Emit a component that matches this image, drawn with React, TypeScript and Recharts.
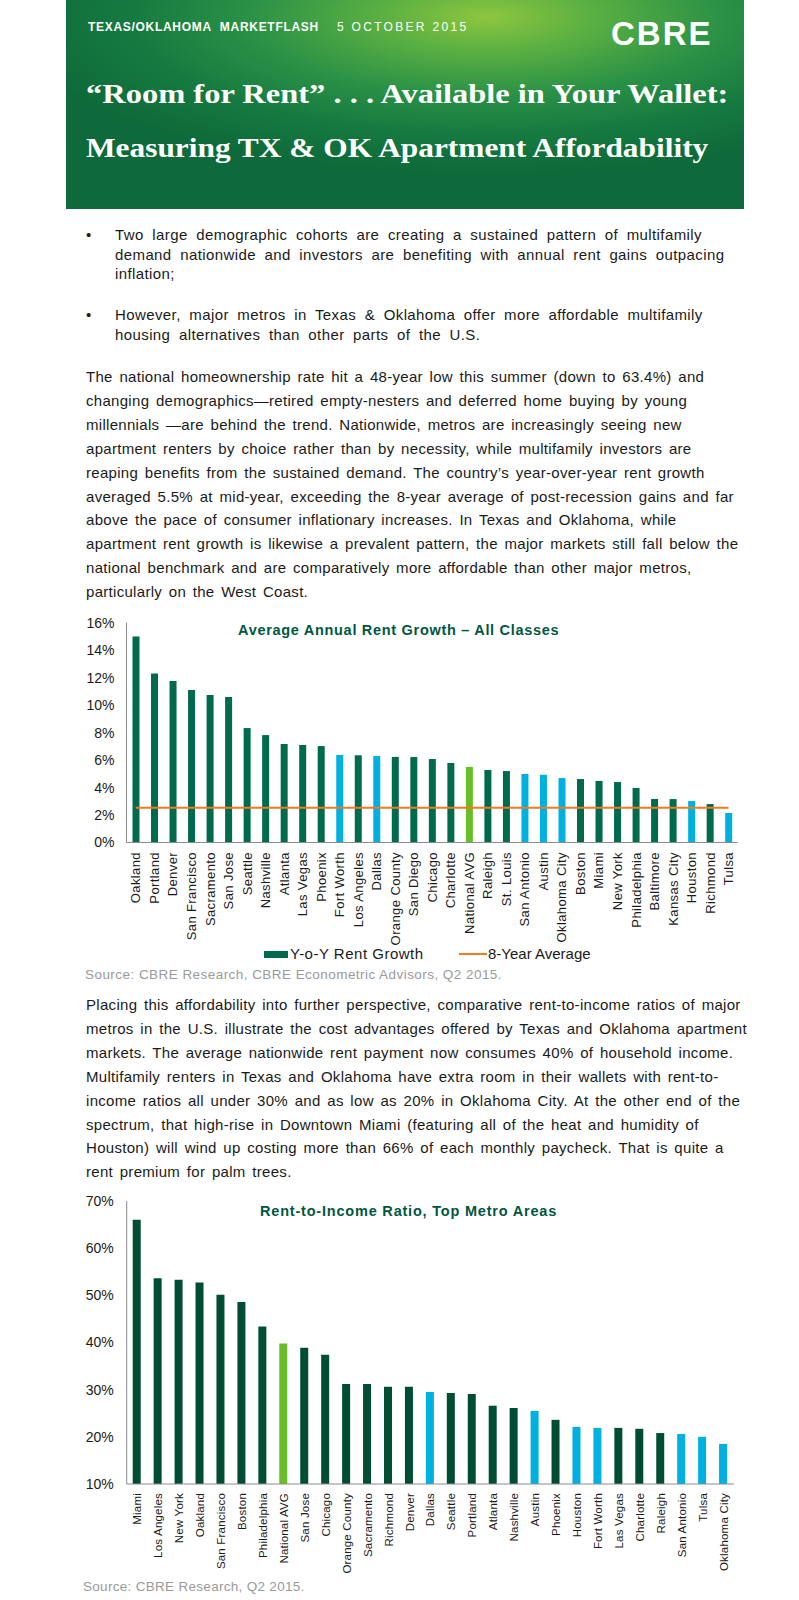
import React from 'react';
import { ComposedChart, BarChart, Bar, Line, XAxis, YAxis, Cell } from 'recharts';

// Chart 1: average annual rent growth (%)
const growthCities = [
  'Oakland', 'Portland', 'Denver', 'San Francisco', 'Sacramento', 'San Jose', 'Seattle',
  'Nashville', 'Atlanta', 'Las Vegas', 'Phoenix', 'Fort Worth', 'Los Angeles', 'Dallas',
  'Orange County', 'San Diego', 'Chicago', 'Charlotte', 'National AVG', 'Raleigh', 'St. Louis',
  'San Antonio', 'Austin', 'Oklahoma City', 'Boston', 'Miami', 'New York', 'Philadelphia',
  'Baltimore', 'Kansas City', 'Houston', 'Richmond', 'Tulsa',
];
const growthValues = [
  15.0, 12.3, 11.75, 11.1, 10.73, 10.59, 8.33, 7.82, 7.17, 7.1, 7.02, 6.37, 6.35, 6.3,
  6.23, 6.22, 6.08, 5.79, 5.5, 5.28, 5.2, 4.99, 4.93, 4.69, 4.62, 4.48, 4.4, 3.97,
  3.17, 3.16, 3.02, 2.8, 2.15,
];
const eightYearAvg = [
  2.53, 2.53, 2.53, 2.53, 2.53, 2.53, 2.53, 2.53, 2.53, 2.53, 2.53, 2.53, 2.53, 2.53,
  2.53, 2.53, 2.53, 2.53, 2.53, 2.53, 2.53, 2.53, 2.53, 2.53, 2.53, 2.53, 2.53, 2.53,
  2.53, 2.53, 2.53, 2.53, 2.53,
];
// m = other metro, t = Texas / Oklahoma, n = national
const growthKind = [
  'm', 'm', 'm', 'm', 'm', 'm', 'm', 'm', 'm', 'm', 'm', 't', 'm', 't', 'm', 'm', 'm', 'm',
  'n', 'm', 'm', 't', 't', 't', 'm', 'm', 'm', 'm', 'm', 'm', 't', 'm', 't',
];
const growthTicks = [0, 2, 4, 6, 8, 10, 12, 14, 16];

// Chart 2: rent-to-income ratio (%)
const ratioCities = [
  'Miami', 'Los Angeles', 'New York', 'Oakland', 'San Francisco', 'Boston', 'Philadelphia',
  'National AVG', 'San Jose', 'Chicago', 'Orange County', 'Sacramento', 'Richmond', 'Denver',
  'Dallas', 'Seattle', 'Portland', 'Atlanta', 'Nashville', 'Austin', 'Phoenix', 'Houston',
  'Fort Worth', 'Las Vegas', 'Charlotte', 'Raleigh', 'San Antonio', 'Tulsa', 'Oklahoma City',
];
const ratioValues = [
  66.0, 53.6, 53.3, 52.7, 50.1, 48.6, 43.4, 39.8, 38.9, 37.4, 31.2, 31.2, 30.6, 30.6,
  29.5, 29.3, 29.1, 26.6, 26.1, 25.5, 23.6, 22.1, 21.9, 21.9, 21.7, 20.8, 20.6, 20.0, 18.5,
];
const ratioKind = [
  'm', 'm', 'm', 'm', 'm', 'm', 'm', 'n', 'm', 'm', 'm', 'm', 'm', 'm',
  't', 'm', 'm', 'm', 'm', 't', 'm', 't', 't', 'm', 'm', 'm', 't', 't', 't',
];
const ratioTicks = [10, 20, 30, 40, 50, 60, 70];

const bullets = [
  [
    'Two large demographic cohorts are creating a sustained pattern of multifamily',
    'demand nationwide and investors are benefiting with annual rent gains outpacing',
    'inflation;',
  ],
  [
    'However, major metros in Texas & Oklahoma offer more affordable multifamily',
    'housing alternatives than other parts of the U.S.',
  ],
];
const para1 = [
  'The national homeownership rate hit a 48-year low this summer (down to 63.4%) and',
  'changing demographics\u2014retired empty-nesters and deferred home buying by young',
  'millennials \u2014are behind the trend. Nationwide, metros are increasingly seeing new',
  'apartment renters by choice rather than by necessity, while multifamily investors are',
  'reaping benefits from the sustained demand. The country\u2019s year-over-year rent growth',
  'averaged 5.5% at mid-year, exceeding the 8-year average of post-recession gains and far',
  'above the pace of consumer inflationary increases. In Texas and Oklahoma, while',
  'apartment rent growth is likewise a prevalent pattern, the major markets still fall below the',
  'national benchmark and are comparatively more affordable than other major metros,',
  'particularly on the West Coast.',
];
const para2 = [
  'Placing this affordability into further perspective, comparative rent-to-income ratios of major',
  'metros in the U.S. illustrate the cost advantages offered by Texas and Oklahoma apartment',
  'markets. The average nationwide rent payment now consumes 40% of household income.',
  'Multifamily renters in Texas and Oklahoma have extra room in their wallets with rent-to-',
  'income ratios all under 30% and as low as 20% in Oklahoma City. At the other end of the',
  'spectrum, that high-rise in Downtown Miami (featuring all of the heat and humidity of',
  'Houston) will wind up costing more than 66% of each monthly paycheck. That is quite a',
  'rent premium for palm trees.',
];

const SANS = '"Liberation Sans", Arial, sans-serif';
const SERIF = '"Liberation Serif", "Times New Roman", serif';
const kindColor1: Record<string, string> = { m: '#006A4D', t: '#00B0E0', n: '#69BE28' };
const kindColor2: Record<string, string> = { m: '#004D35', t: '#00B0E0', n: '#69BE28' };
const bodyText = { letterSpacing: 0.3, wordSpacing: 2.2 };
const bulletText = { letterSpacing: 0.4, wordSpacing: 4 };

const growthData = growthCities.map((city, i) => ({
  city, growth: growthValues[i], avg: eightYearAvg[i], kind: growthKind[i],
}));
const ratioData = ratioCities.map((city, i) => ({
  city, ratio: ratioValues[i], kind: ratioKind[i],
}));

// place a line of text by its vertical centre
const T = ({ x, y, size, children, style = {} }: any) => (
  <div
    style={{
      position: 'absolute', left: x, top: y - size * 0.6, lineHeight: `${size * 1.2}px`,
      fontSize: size, whiteSpace: 'nowrap', fontFamily: SANS, ...style,
    }}
  >
    {children}
  </div>
);

const VerticalTick = ({ x, y, payload, size, spacing }: any) => (
  <text
    x={x} y={y} transform={`rotate(-90 ${x} ${y})`} textAnchor="end" dy="0.36em"
    fontSize={size} fill="#1a1a1a" fontFamily={SANS} letterSpacing={spacing}
  >
    {payload.value}
  </text>
);

const Header = () => (
  <div
    style={{
      position: 'absolute', left: 66, top: 0, width: 678, height: 209,
      background:
        'radial-gradient(ellipse 70% 75% at 62% 8%, #8DC63F 0%, #5BB042 22%, #2A9146 50%, #167A40 75%, #0E6A3A 100%)',
      color: '#fff',
    }}
  >
    <T x={22} y={27} size={12} style={{ fontWeight: 700, letterSpacing: 0.7 }}>
      TEXAS/OKLAHOMA&nbsp;&nbsp;MARKETFLASH
    </T>
    <T x={271} y={27} size={12} style={{ letterSpacing: 2.3 }}>5 OCTOBER 2015</T>
    <T x={545} y={34} size={33} style={{ fontWeight: 700, letterSpacing: 2 }}>CBRE</T>
    <T
      x={20} y={94} size={28}
      style={{ fontFamily: SERIF, fontWeight: 700, transform: 'scaleX(1.16)', transformOrigin: 'left center' }}
    >
      {'\u201CRoom for Rent\u201D . . . Available in Your Wallet:'}
    </T>
    <T
      x={20} y={148} size={28}
      style={{ fontFamily: SERIF, fontWeight: 700, transform: 'scaleX(1.12)', transformOrigin: 'left center' }}
    >
      Measuring TX &amp; OK Apartment Affordability
    </T>
  </div>
);

export default function App() {
  return (
    <div style={{ position: 'absolute', left: 0, top: 0, width: 799, height: 1600, background: '#fff', color: '#1a1a1a' }}>
      <Header />

      {bullets.map((lines, b) => (
        <React.Fragment key={b}>
          <T x={86} y={b === 0 ? 235 : 315} size={15}>{'\u2022'}</T>
          {lines.map((l, i) => (
            <T key={i} x={115} y={(b === 0 ? 235 : 315) + i * 19.7} size={15} style={bulletText}>{l}</T>
          ))}
        </React.Fragment>
      ))}

      {para1.map((l, i) => (
        <T key={i} x={86} y={377 + i * 23.9} size={15} style={bodyText}>{l}</T>
      ))}

      {/* Chart 1 */}
      <T x={238} y={631} size={14.5} style={{ fontWeight: 700, color: '#00573F', letterSpacing: 0.7 }}>
        {'Average Annual Rent Growth \u2013 All Classes'}
      </T>
      <div style={{ position: 'absolute', left: 0, top: 600 }}>
        <ComposedChart
          width={760} height={370} data={growthData}
          margin={{ top: 22.7, right: 22.3, left: 66.5, bottom: 0 }}
        >
          <XAxis
            dataKey="city" interval={0} height={127.5} tickSize={0} tickMargin={9.5}
            axisLine={{ stroke: '#8C8C8C' }} tickLine={false}
            tick={<VerticalTick size={13} spacing={0.4} />}
          />
          <YAxis
            width={60} domain={[0, 16]} ticks={growthTicks} tickSize={0} tickMargin={12}
            tickFormatter={(v: number) => `${v}%`} axisLine={{ stroke: '#8C8C8C' }} tickLine={false}
            tick={{ fontSize: 14, fill: '#1a1a1a', fontFamily: SANS }}
          />
          <Bar dataKey="growth" barSize={7} isAnimationActive={false}>
            {growthData.map((d, i) => <Cell key={i} fill={kindColor1[d.kind]} />)}
          </Bar>
          <Line
            dataKey="avg" type="linear" stroke="#F47920" strokeWidth={2.2} dot={false}
            isAnimationActive={false}
          />
        </ComposedChart>
      </div>
      <div style={{ position: 'absolute', left: 264, top: 951, width: 24, height: 7, background: '#006A4D' }} />
      <T x={290} y={954} size={15} style={{ letterSpacing: 0.5 }}>Y-o-Y Rent Growth</T>
      <div style={{ position: 'absolute', left: 459, top: 953, width: 28, height: 2, background: '#F47920' }} />
      <T x={488} y={954} size={15}>8-Year Average</T>
      <T x={85} y={975} size={13.5} style={{ color: '#9A9A9A', letterSpacing: 0.45 }}>
        Source: CBRE Research, CBRE Econometric Advisors, Q2 2015.
      </T>

      {para2.map((l, i) => (
        <T key={i} x={86} y={1005 + i * 23.9} size={15} style={bodyText}>{l}</T>
      ))}

      {/* Chart 2 */}
      <T x={260} y={1212} size={14.5} style={{ fontWeight: 700, color: '#00573F', letterSpacing: 0.8 }}>
        Rent-to-Income Ratio, Top Metro Areas
      </T>
      <div style={{ position: 'absolute', left: 0, top: 1180 }}>
        <BarChart
          width={760} height={400} data={ratioData}
          margin={{ top: 21, right: 26, left: 66.7, bottom: 0 }}
        >
          <XAxis
            dataKey="city" interval={0} height={96} tickSize={0} tickMargin={9}
            axisLine={{ stroke: '#8C8C8C' }} tickLine={false}
            tick={<VerticalTick size={11.5} spacing={0.2} />}
          />
          <YAxis
            width={60} domain={[10, 70]} ticks={ratioTicks} tickSize={0} tickMargin={13}
            tickFormatter={(v: number) => `${v}%`} axisLine={{ stroke: '#8C8C8C' }} tickLine={false}
            tick={{ fontSize: 14, fill: '#1a1a1a', fontFamily: SANS }}
          />
          <Bar dataKey="ratio" barSize={8} isAnimationActive={false}>
            {ratioData.map((d, i) => <Cell key={i} fill={kindColor2[d.kind]} />)}
          </Bar>
        </BarChart>
      </div>
      <T x={83} y={1587} size={13.5} style={{ color: '#9A9A9A', letterSpacing: 0.3 }}>
        Source: CBRE Research, Q2 2015.
      </T>
    </div>
  );
}
